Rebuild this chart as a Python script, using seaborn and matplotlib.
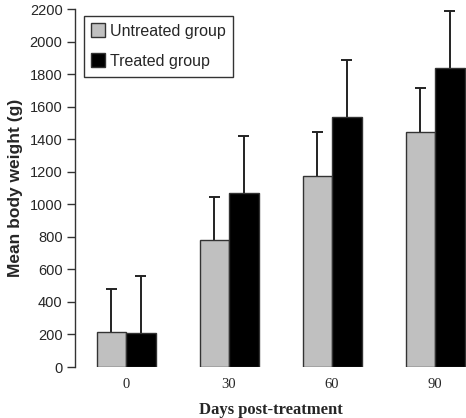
import numpy as np
import pandas as pd
import matplotlib
matplotlib.use('Agg')
import matplotlib.pyplot as plt
import seaborn as sns

days = ['0', '30', '60', '90']
groups = ['Untreated group', 'Treated group']
untreated = [217, 779, 1176, 1446]
treated = [211, 1068, 1538, 1836]
untreated_sd = [262, 266, 270, 271]
treated_sd = [348, 351, 349, 352]

df = pd.DataFrame({
    'day': days * 2,
    'group': [groups[0]] * 4 + [groups[1]] * 4,
    'weight': untreated + treated,
    'sd': untreated_sd + treated_sd,
})

sns.set_style('ticks')
fig = plt.figure(figsize=(4.66, 4.18), dpi=100)
ax = fig.add_axes([0.161, 0.122, 0.839, 0.856])

palette = {groups[0]: '#c0c0c0', groups[1]: '#000000'}
sns.barplot(data=df, x='day', y='weight', hue='group', order=days, hue_order=groups,
            palette=palette, width=0.573, errorbar=None, edgecolor='#333333',
            linewidth=1.0, ax=ax, legend=False, zorder=2)

# upper-only error bars, starting at the top of each bar
for cont, g in zip(ax.containers, groups):
    sub = df[df['group'] == g].set_index('day').loc[days]
    xs = np.array([p.get_x() + p.get_width() / 2 for p in cont])
    tops = sub['weight'].values + sub['sd'].values
    ax.vlines(xs, sub['weight'].values, tops, color='#222222', lw=1.4, zorder=1)
    ax.hlines(tops, xs - 0.054, xs + 0.054, color='#222222', lw=1.4, zorder=1)

ax.set_ylim(0, 2200)
ax.set_xlim(-0.495, 3.3)
ax.set_yticks(range(0, 2201, 200))
ax.tick_params(axis='y', length=6, width=1, color='#333333', labelsize=10.5, pad=3)
ax.tick_params(axis='x', length=0, labelsize=10.5, pad=8)
for lab in ax.get_yticklabels():
    lab.set_fontfamily('Liberation Sans')
for lab in ax.get_xticklabels():
    lab.set_fontfamily('Liberation Serif')

sns.despine(ax=ax, bottom=True)
ax.spines['left'].set_color('#333333')
ax.spines['left'].set_linewidth(1)

ax.set_ylabel('Mean body weight (g)', fontsize=12.5, fontweight='bold',
              fontfamily='Liberation Sans', labelpad=5)
ax.set_xlabel('Days post-treatment', fontsize=12, fontweight='bold',
              fontfamily='Liberation Serif', labelpad=8)

handles = [plt.Line2D([], [], marker='s', linestyle='none', markersize=10.5,
                      markerfacecolor=palette[g], markeredgecolor='#333333',
                      markeredgewidth=1) for g in groups]
leg = ax.legend(handles, groups, loc='upper left', bbox_to_anchor=(0.023, 0.982),
                frameon=True, fancybox=False, edgecolor='#333333', framealpha=1,
                prop={'family': 'Liberation Sans', 'size': 11.5}, handlelength=0.8,
                handletextpad=0.3, labelspacing=0.95, borderpad=0.5, borderaxespad=0)
leg.get_frame().set_linewidth(1)

fig.savefig('out.png', dpi=100)
